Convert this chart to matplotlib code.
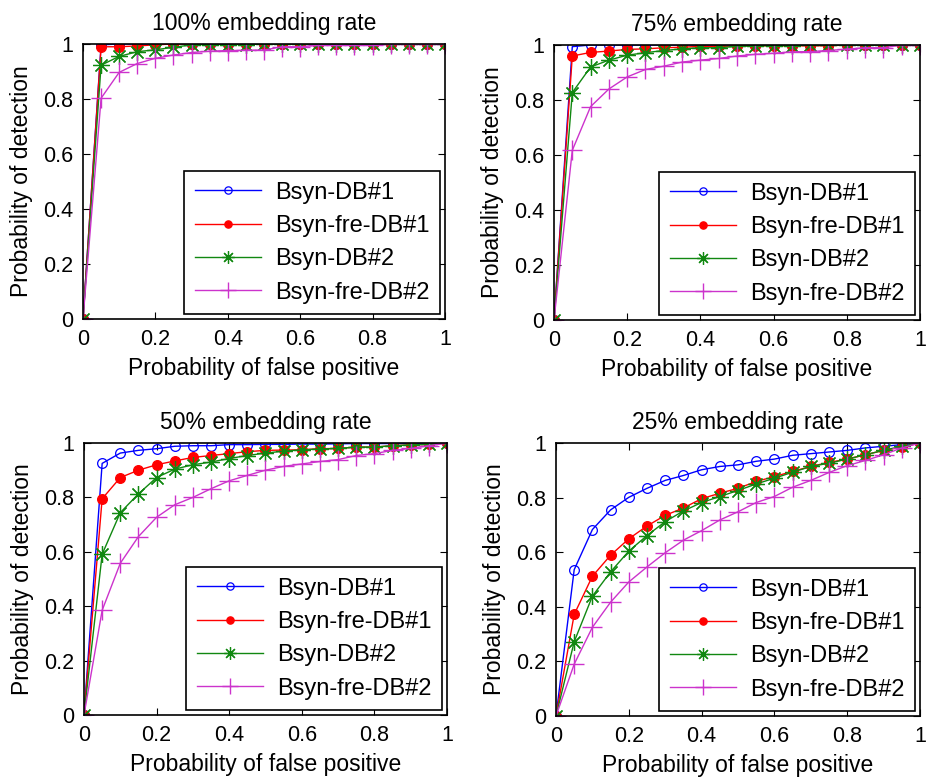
import matplotlib
matplotlib.use("Agg")
import matplotlib.pyplot as plt
import numpy as np

plt.rcParams['font.family'] = ['Liberation Sans', 'DejaVu Sans']

fpr = np.linspace(0, 1, 21)

titles = ["100% embedding rate", "75% embedding rate",
          "50% embedding rate", "25% embedding rate"]
labels = ["Bsyn-DB#1", "Bsyn-fre-DB#1", "Bsyn-DB#2", "Bsyn-fre-DB#2"]

# 100% embedding rate
r100_db1 = [0, 0.997, 1, 1, 1, 1, 1, 1, 1, 1, 1, 1, 1, 1, 1, 1, 1, 1, 1, 1, 1]
r100_fre1 = [0, 0.99, 0.99, 0.993, 0.997, 1, 1, 1, 1, 1, 1, 1, 1, 1, 1, 1, 1, 1, 1, 1, 1]
r100_db2 = [0, 0.923, 0.955, 0.972, 0.979, 0.988, 0.997, 0.998, 0.998, 0.998, 1,
            1, 1, 1, 1, 1, 1, 1, 1, 1, 1]
r100_fre2 = [0, 0.803, 0.897, 0.929, 0.948, 0.96, 0.969, 0.974, 0.976, 0.977, 0.978,
             0.99, 0.99, 0.995, 0.995, 0.995, 0.995, 1, 1, 1, 1]

# 75% embedding rate
r75_db1 = [0, 0.994, 1, 1, 1, 1, 1, 1, 1, 1, 1, 1, 1, 1, 1, 1, 1, 1, 1, 1, 1]
r75_fre1 = [0, 0.96, 0.973, 0.978, 0.984, 0.986, 0.99, 0.992, 0.995, 0.995, 0.996,
            0.997, 0.997, 0.997, 0.997, 0.997, 1, 1, 1, 1, 1]
r75_db2 = [0, 0.827, 0.92, 0.945, 0.963, 0.972, 0.98, 0.986, 0.99, 0.99, 0.995,
           0.997, 0.998, 0.998, 1, 1, 1, 1, 1, 1, 1]
r75_fre2 = [0, 0.617, 0.776, 0.84, 0.884, 0.911, 0.923, 0.938, 0.945, 0.951, 0.96,
            0.966, 0.97, 0.975, 0.976, 0.98, 0.985, 0.99, 0.99, 1, 1]

# 50% embedding rate
r50_db1 = [0, 0.925, 0.963, 0.973, 0.979, 0.988, 0.99, 0.99, 0.994, 0.994, 0.995,
           0.995, 0.996, 0.996, 0.997, 0.998, 0.998, 0.998, 0.998, 1, 1]
r50_fre1 = [0, 0.795, 0.873, 0.9, 0.92, 0.934, 0.947, 0.954, 0.961, 0.968, 0.973,
            0.974, 0.975, 0.979, 0.98, 0.985, 0.985, 0.99, 0.993, 0.995, 1]
r50_db2 = [0, 0.591, 0.744, 0.813, 0.873, 0.904, 0.92, 0.93, 0.943, 0.954, 0.963,
           0.97, 0.975, 0.978, 0.98, 0.985, 0.985, 0.99, 0.993, 0.995, 1]
r50_fre2 = [0, 0.385, 0.558, 0.656, 0.727, 0.773, 0.8, 0.832, 0.861, 0.881, 0.9,
            0.914, 0.923, 0.932, 0.939, 0.954, 0.961, 0.973, 0.98, 0.99, 1]

# 25% embedding rate
r25_db1 = [0, 0.536, 0.683, 0.755, 0.801, 0.834, 0.863, 0.881, 0.902, 0.914, 0.92,
           0.933, 0.941, 0.955, 0.961, 0.967, 0.973, 0.982, 0.988, 0.994, 1]
r25_fre1 = [0, 0.372, 0.512, 0.589, 0.649, 0.696, 0.735, 0.762, 0.796, 0.816, 0.834,
            0.859, 0.877, 0.896, 0.914, 0.929, 0.941, 0.957, 0.973, 0.985, 1]
r25_db2 = [0, 0.272, 0.439, 0.528, 0.604, 0.661, 0.712, 0.751, 0.782, 0.804, 0.826,
           0.85, 0.871, 0.893, 0.914, 0.926, 0.941, 0.957, 0.973, 0.988, 1]
r25_fre2 = [0, 0.19, 0.325, 0.417, 0.491, 0.546, 0.598, 0.644, 0.679, 0.718, 0.748,
            0.782, 0.804, 0.838, 0.863, 0.892, 0.917, 0.936, 0.957, 0.982, 1]

panels = [
    [r100_db1, r100_fre1, r100_db2, r100_fre2],
    [r75_db1, r75_fre1, r75_db2, r75_fre2],
    [r50_db1, r50_fre1, r50_db2, r50_fre2],
    [r25_db1, r25_fre1, r25_db2, r25_fre2],
]

styles = [
    dict(color='#0000ff', marker='o', mfc='none', ms=7, mew=0.9),
    dict(color='#ff0000', marker='o', mfc='#ff0000', ms=7, mew=0.9),
    dict(color='#118811', marker=(8, 2, 0), ms=12, mew=0.9),
    dict(color='#cc33cc', marker='+', ms=15, mew=1.0),
]

fig = plt.figure(figsize=(9.29, 7.78), dpi=100)
W, H = 929, 778
boxes = [(83, 44, 445, 319), (554, 45, 920, 320),
         (84, 443, 447, 715), (556, 443, 920, 716)]

for i, (x0, y0, x1, y1) in enumerate(boxes):
    ax = fig.add_axes([x0 / W, 1 - y1 / H, (x1 - x0) / W, (y1 - y0) / H])
    for vals, lab, st in zip(panels[i], labels, styles):
        ax.plot(fpr, vals, lw=1.0, label=lab, **st)
    ax.set_xlim(0, 1)
    ax.set_ylim(0, 1)
    ticks = [0, 0.2, 0.4, 0.6, 0.8, 1]
    ax.set_xticks(ticks)
    ax.set_yticks(ticks)
    ax.set_xticklabels(["0", "0.2", "0.4", "0.6", "0.8", "1"])
    ax.set_yticklabels(["0", "0.2", "0.4", "0.6", "0.8", "1"])
    ax.tick_params(direction='in', top=True, right=True, labelsize=15.5,
                   length=5, width=0.8, pad=7)
    for sp in ax.spines.values():
        sp.set_linewidth(1.2)
    ax.set_title(titles[i], fontsize=16.5, pad=10)
    ax.set_xlabel("Probability of false positive", fontsize=16.5, labelpad=5)
    ax.set_ylabel("Probability of detection", fontsize=16.5, labelpad=7)
    leg = ax.legend(loc='lower right', fontsize=17, frameon=True, fancybox=False,
                    edgecolor='black', framealpha=1, borderaxespad=0.2,
                    handlelength=2.8, handletextpad=0.6, labelspacing=0.48,
                    borderpad=0.45, numpoints=1, markerscale=0.75)
    leg.get_frame().set_linewidth(1.2)

fig.savefig("out.png", dpi=100)
